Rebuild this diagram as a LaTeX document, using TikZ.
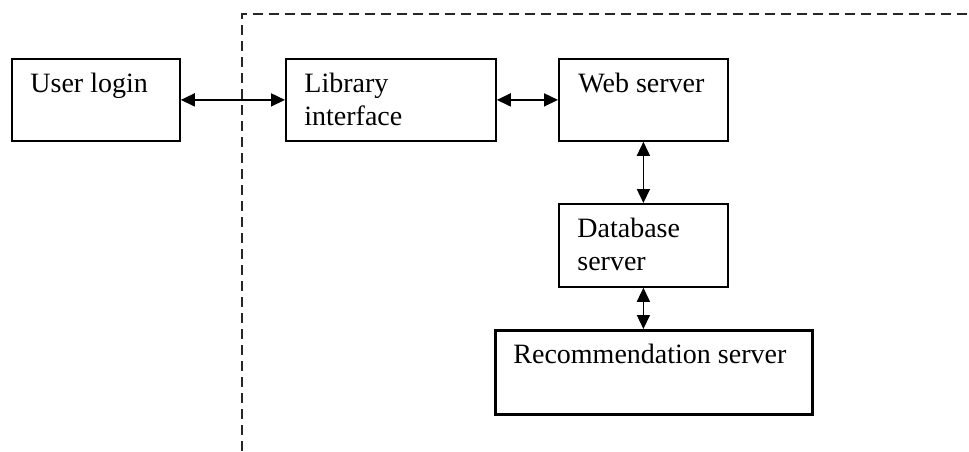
\documentclass[tikz,border=0pt]{standalone}
\usepackage{fontspec}
\setmainfont{Liberation Serif}
\usetikzlibrary{arrows.meta}
\begin{document}
\begin{tikzpicture}[x=0.5pt,y=-0.5pt,
  box/.style={draw=black,line width=0.9pt,rectangle,anchor=north west,inner sep=0pt},
  txt/.style={anchor=base west,inner sep=0pt,font=\fontsize{14pt}{16.5pt}\selectfont,align=left},
  link/.style={line width=0.8pt,{Triangle[length=7pt,width=6.5pt]}-{Triangle[length=7pt,width=6.5pt]}},
  bound/.style={draw=black!85,line width=1.3pt,dash pattern=on 5pt off 3pt}]
\useasboundingbox (0,0) rectangle (969,451);
\coordinate (vtop) at (242,14);
\coordinate (vbot) at (242,451);
\coordinate (hend) at (969,14);
\draw[bound] (vbot) -- (vtop) -- (hend);
\node[box,minimum width=84pt,minimum height=41pt] (user) at (11,58) {};
\node[box,minimum width=105pt,minimum height=41pt] (lib) at (285,58) {};
\node[box,minimum width=84.5pt,minimum height=41pt] (web) at (558,58) {};
\node[box,minimum width=84.5pt,minimum height=41.5pt] (db) at (558,203) {};
\node[box,line width=1.3pt,minimum width=158.5pt,minimum height=42pt] (rec) at (494,329) {};
\node[txt] (usert) at (30,92) {User login};
\node[txt] (libt) at (304,125) {Library\\interface};
\node[txt] (webt) at (578,92) {Web server};
\node[txt] (dbt) at (577,270) {Database\\server};
\node[txt] (rect) at (513,363) {Recommendation server};
\draw[link] (user.east) -- (lib.west);
\draw[link] (lib.east) -- (web.west);
\draw[link] (web.south) -- (db.north);
\draw[link] (db.south) -- (db.south |- rec.north);
\end{tikzpicture}
\end{document}
